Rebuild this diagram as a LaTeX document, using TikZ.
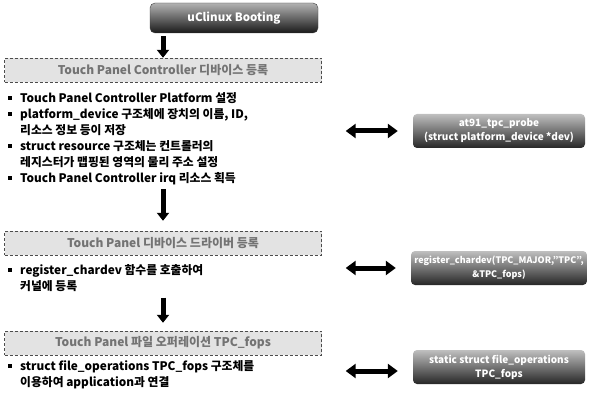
\documentclass[tikz,border=0pt]{standalone}
\usepackage{fontspec}
\setmainfont{Noto Sans CJK KR}
\usetikzlibrary{positioning,calc,arrows.meta}
\tikzset{
  bootbox/.style={draw=gray!50!black,rounded corners=5pt,top color=gray!60,bottom color=black!90,
    text=white,font=\bfseries\fontsize{11.5}{13}\selectfont,minimum width=168pt,minimum height=30pt},
  stagebar/.style={draw=black!70,densely dashed,fill=gray!22,text=black!55,
    font=\bfseries\fontsize{12}{13}\selectfont,minimum width=317pt,minimum height=24pt},
  funcbox/.style={rounded corners=4pt,top color=gray!50,bottom color=gray!30!black,text=white,
    font=\bfseries\fontsize{10}{14}\selectfont,align=center,minimum width=172pt,minimum height=34pt},
  notes/.style={align=left,inner sep=0pt,anchor=north west,font=\bfseries\fontsize{11.8}{16}\selectfont},
  flow/.style={line width=5pt,-{Triangle[width=12pt,length=8pt]}},
  link/.style={line width=5pt,{Triangle[width=14pt,length=10pt]}-{Triangle[width=14pt,length=10pt]}},
}
\newcommand{\itm}{\makebox[12pt][l]{\rule[0.2em]{3.5pt}{3.5pt}}}
\newcommand{\cont}{\makebox[12pt]{}}

\begin{document}
\begin{tikzpicture}[x=1pt,y=-1pt]
  \useasboundingbox (0,0) rectangle (590,396);
  % booting and the three stages
  \node[bootbox] (boot) at (234,18) {uClinux Booting};
  \node[stagebar] (bar1) at (163,70) {Touch Panel Controller 디바이스 등록};
  \node[notes] (list1) at (8,92) {%
    \itm Touch Panel Controller Platform 설정\\
    \itm platform\_device 구조체에 장치의 이름, ID,\\
    \cont 리소스 정보 등이 저장\\
    \itm struct resource 구조체는 컨트롤러의\\
    \cont 레지스터가 맵핑된 영역의 물리 주소 설정\\
    \itm Touch Panel Controller irq 리소스 획득};
  \node[stagebar] (bar2) at (163,243) {Touch Panel 디바이스 드라이버 등록};
  \node[notes] (list2) at (8,264) {%
    \itm register\_chardev 함수를 호출하여\\
    \cont 커널에 등록};
  \node[stagebar] (bar3) at (163,343) {Touch Panel 파일 오퍼레이션 TPC\_fops};
  \node[notes] (list3) at (8,360) {%
    \itm struct file\_operations TPC\_fops 구조체를\\
    \cont 이용하여 application과 연결};
  % kernel functions
  \node[funcbox] (probe) at (499,131) {at91\_tpc\_probe\\(struct platform\_device *dev)};
  \node[funcbox,font=\bfseries\fontsize{9}{14}\selectfont] (reg) at (499,268) {register\_chardev(TPC\_MAJOR,"TPC",\\\&TPC\_fops)};
  \node[funcbox] (fops) at (499,367) {static struct file\_operations\\TPC\_fops};
  % arrows
  \draw[flow] (boot.south -| bar1.north) ++(0,3) -- (bar1.north);
  \draw[flow,shorten <=4pt,shorten >=10pt] (list1.south -| bar2.north) -- (bar2.north);
  \draw[flow,shorten <=6pt,shorten >=8pt] (list2.south -| bar3.north) -- (bar3.north);
  \draw[link,shorten <=24pt,shorten >=15pt] (probe.west -| bar1.east) -- (probe.west);
  \draw[link,shorten <=24pt,shorten >=15pt] (reg.west -| bar2.east) -- (reg.west);
  \draw[link,shorten <=24pt,shorten >=15pt] ([yshift=-4pt]fops.west -| bar3.east) -- ([yshift=-4pt]fops.west);
\end{tikzpicture}
\end{document}
